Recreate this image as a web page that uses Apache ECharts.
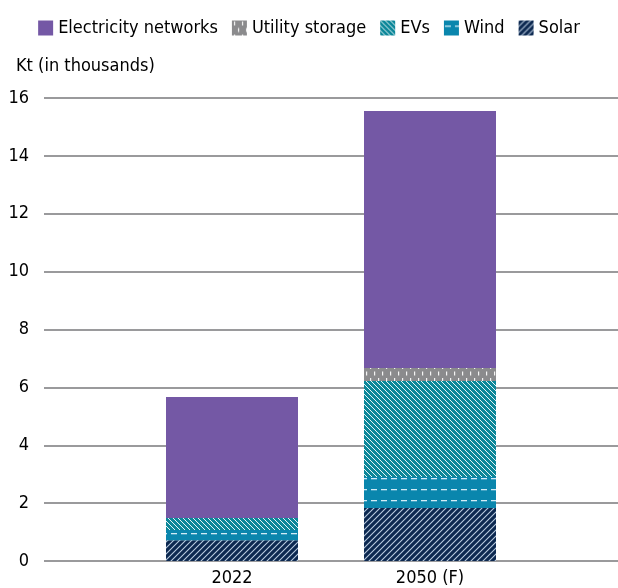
<!DOCTYPE html>
<html><head><meta charset="utf-8">
<script src="https://cdn.jsdelivr.net/npm/echarts@6/dist/echarts.min.js"></script>
<style>html,body{margin:0;padding:0;background:#fff}#c{width:618px;height:588px}</style>
</head><body><div id="c"></div>
<script>
const categories = ['2022', '2050 (F)'];
const solar = [0.72, 1.83];
const wind = [0.35, 1.07];
const evs = [0.42, 3.32];
const utilityStorage = [0, 0.45];
const electricityNetworks = [4.18, 8.88];
const yTicks = [0, 2, 4, 6, 8, 10, 12, 14, 16];

const FONT = '"DejaVu Sans Condensed", "Roboto", sans-serif';

function diag(bg, fg, size, lw, dir) {
  const c = document.createElement('canvas');
  c.width = size; c.height = size;
  const x = c.getContext('2d');
  x.fillStyle = bg; x.fillRect(0, 0, size, size);
  x.strokeStyle = fg; x.lineWidth = lw;
  x.beginPath();
  if (dir > 0) {
    x.moveTo(-1, size + 1); x.lineTo(size + 1, -1);
    x.moveTo(-1, 1); x.lineTo(1, -1);
    x.moveTo(size - 1, size + 1); x.lineTo(size + 1, size - 1);
  } else {
    x.moveTo(-1, -1); x.lineTo(size + 1, size + 1);
    x.moveTo(size - 1, -1); x.lineTo(size + 1, 1);
    x.moveTo(-1, size - 1); x.lineTo(1, size + 1);
  }
  x.stroke();
  return c;
}
function hdash(bg, fg) {
  const c = document.createElement('canvas');
  c.width = 10; c.height = 11;
  const x = c.getContext('2d');
  x.fillStyle = bg; x.fillRect(0, 0, 10, 11);
  x.fillStyle = fg; x.fillRect(1, 5, 6, 1.3);
  return c;
}
function vdash(bg, fg) {
  const c = document.createElement('canvas');
  c.width = 8; c.height = 13;
  const x = c.getContext('2d');
  x.fillStyle = bg; x.fillRect(0, 0, 8, 13);
  x.fillStyle = fg;
  x.fillRect(2, 1, 1.2, 4);
  x.fillRect(6, 7.5, 1.2, 4);
  return c;
}

const pSolar = { image: diag('#0c2850', 'rgba(205,222,240,0.9)', 6, 1.1, 1), repeat: 'repeat' };
const pEvs = { image: diag('#0b8799', 'rgba(255,255,255,0.9)', 5, 1.0, -1), repeat: 'repeat' };
const pWind = { image: hdash('#0a86ad', 'rgba(220,240,250,0.95)'), repeat: 'repeat' };
const pUtil = { image: vdash('#8b8b8d', 'rgba(255,255,255,0.9)'), repeat: 'repeat' };

const chart = echarts.init(document.getElementById('c'), null, { renderer: 'canvas' });

function s(name, data, color) {
  return {
    name, type: 'bar', stack: 'total', data, xAxisIndex: 1, yAxisIndex: 1,
    barWidth: 132, itemStyle: { color }, emphasis: { disabled: true }
  };
}

chart.setOption({
  animation: false,
  textStyle: { fontFamily: FONT },
  title: {
    text: 'Kt (in thousands)', left: 11, top: 52,
    textStyle: { fontFamily: FONT, fontSize: 18, fontWeight: 'normal', color: '#000' }
  },
  legend: {
    data: ['Electricity networks', 'Utility storage', 'EVs', 'Wind', 'Solar'],
    top: 14, left: 'center', itemWidth: 15, itemHeight: 15, itemGap: 14,
    icon: 'rect', selectedMode: false,
    textStyle: { fontFamily: FONT, fontSize: 18, color: '#000' }
  },
  grid: [
    { left: 44, right: 0, top: 98, bottom: 27 },
    { left: 133, width: 396, top: 98, bottom: 27 }
  ],
  xAxis: [
    { type: 'category', gridIndex: 0, data: categories, show: false },
    {
      type: 'category', gridIndex: 1, data: categories,
      axisLine: { show: false }, axisTick: { show: false },
      axisLabel: { fontFamily: FONT, fontSize: 18, color: '#000', margin: 8 }
    }
  ],
  yAxis: [
    {
      type: 'value', gridIndex: 0, min: yTicks[0], max: yTicks[yTicks.length - 1], interval: 2,
      axisLine: { show: false }, axisTick: { show: false },
      axisLabel: { fontFamily: FONT, fontSize: 18, color: '#000', margin: 15 },
      splitLine: { lineStyle: { color: '#9a9a9c', width: 2 } }
    },
    { type: 'value', gridIndex: 1, min: 0, max: 16, show: false, splitLine: { show: false } }
  ],
  series: [
    s('Solar', solar, pSolar),
    s('Wind', wind, pWind),
    s('EVs', evs, pEvs),
    s('Utility storage', utilityStorage, pUtil),
    s('Electricity networks', electricityNetworks, '#7458a5')
  ]
});
</script></body></html>
